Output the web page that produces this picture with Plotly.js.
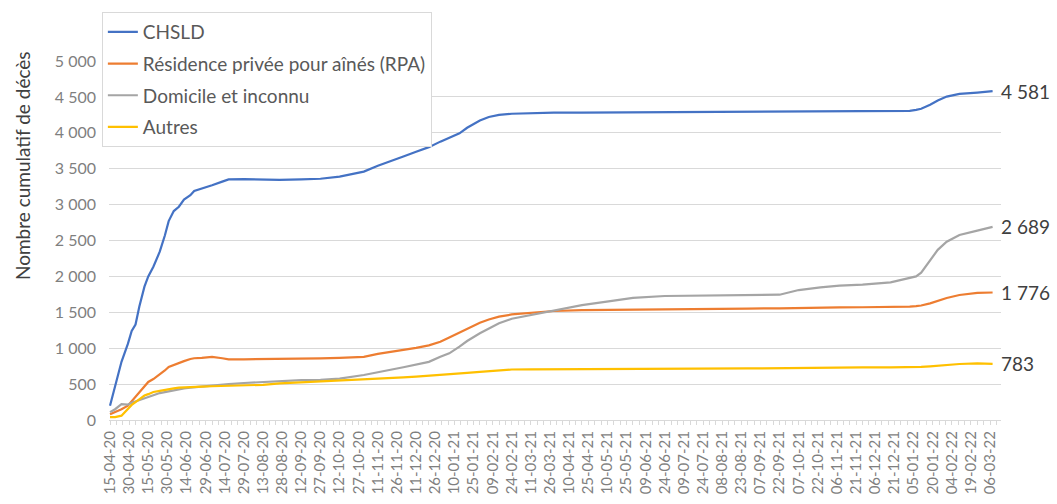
<!DOCTYPE html>
<html>
<head>
<meta charset="utf-8">
<script src="https://cdn.plot.ly/plotly-3.0.1.min.js"></script>
<style>
  html, body { margin: 0; padding: 0; background: #ffffff; }
  #chart { width: 1057px; height: 504px; }
</style>
</head>
<body>
<div id="chart"></div>
<script>
// ---- Data ----
const dates = [
  "2020-04-15","2020-04-19","2020-04-24","2020-04-29","2020-05-02","2020-05-05","2020-05-08",
  "2020-05-12","2020-05-15","2020-05-19","2020-05-24","2020-05-28","2020-05-31","2020-06-04",
  "2020-06-08","2020-06-12","2020-06-17","2020-06-20","2020-06-26","2020-07-04","2020-07-12",
  "2020-07-17","2020-07-29","2020-08-13","2020-08-26","2020-09-12","2020-09-27","2020-10-12",
  "2020-10-31","2020-11-11","2020-11-21","2020-12-01","2020-12-11","2020-12-21","2020-12-30",
  "2021-01-06","2021-01-14","2021-01-20","2021-01-30","2021-02-06","2021-02-14","2021-02-24",
  "2021-03-11","2021-03-29","2021-04-20","2021-05-15","2021-05-30","2021-06-24","2021-07-19",
  "2021-08-28","2021-09-22","2021-10-07","2021-10-24","2021-11-08","2021-11-26","2021-12-18",
  "2022-01-02","2022-01-07","2022-01-11","2022-01-18","2022-01-24","2022-01-31","2022-02-10",
  "2022-02-24","2022-03-08"
];

const chsld = [
  200,460,810,1060,1240,1330,1580,
  1857,2000,2135,2344,2570,2770,2910,
  2970,3070,3130,3190,3220,3270,3320,
  3350,3355,3345,3343,3350,3360,3390,
  3460,3540,3600,3670,3737,3800,3877,
  3930,3993,4070,4170,4220,4249,4265,
  4275,4280,4281,4283,4285,4286,4292,
  4293,4294,4295,4296,4297,4298,4298,
  4305,4320,4335,4390,4450,4504,4541,
  4560,4581
];

const rpa = [
  80,110,150,200,260,320,380,
  460,530,570,630,690,740,770,
  800,820,850,860,865,880,860,
  845,845,848,845,852,858,865,
  880,920,945,975,1005,1040,1090,
  1150,1220,1270,1355,1400,1439,1470,
  1495,1518,1530,1535,1542,1548,1551,
  1552,1555,1562,1565,1568,1570,1572,
  1579,1585,1595,1625,1660,1700,1741,
  1770,1776
];

const domicile = [
  110,150,220,215,240,260,280,
  300,320,345,375,390,400,415,
  430,440,450,455,470,488,495,
  500,515,530,543,555,560,575,
  627,660,700,735,770,810,880,
  929,1021,1100,1208,1270,1347,1410,
  1463,1523,1600,1662,1700,1727,1731,
  1733,1745,1810,1848,1871,1885,1918,
  1973,2000,2052,2229,2370,2483,2577,
  2637,2689
];

const autres = [
  40,40,60,160,210,250,290,
  340,360,390,405,420,430,440,
  450,455,460,465,465,470,475,
  475,478,490,511,525,535,545,
  560,575,585,595,605,615,625,
  635,648,655,670,682,696,703,
  706,706,708,715,715,715,715,
  718,725,730,732,733,734,734,
  735,737,740,748,757,766,780,
  789,783
];

const seriesNames = ["CHSLD", "Résidence privée pour aînés (RPA)", "Domicile et inconnu", "Autres"];
const seriesColors = ["#4472C4", "#ED7D31", "#A5A5A5", "#FFC000"];

const tickLabels = [
  "15-04-20","30-04-20","15-05-20","30-05-20","14-06-20","29-06-20","14-07-20","29-07-20",
  "13-08-20","28-08-20","12-09-20","27-09-20","12-10-20","27-10-20","11-11-20","26-11-20",
  "11-12-20","26-12-20","10-01-21","25-01-21","09-02-21","24-02-21","11-03-21","26-03-21",
  "10-04-21","25-04-21","10-05-21","25-05-21","09-06-21","24-06-21","09-07-21","24-07-21",
  "08-08-21","23-08-21","07-09-21","22-09-21","07-10-21","22-10-21","06-11-21","21-11-21",
  "06-12-21","21-12-21","05-01-22","20-01-22","04-02-22","19-02-22","06-03-22"
];

const yTitle = "Nombre cumulatif de décès";

// ---- Build chart ----
const allSeries = [chsld, rpa, domicile, autres];
const tickVals = tickLabels.map(s => {
  const [d, m, y] = s.split("-");
  return "20" + y + "-" + m + "-" + d;
});

const traces = allSeries.map((vals, i) => ({
  type: "scatter",
  mode: "lines",
  x: dates,
  y: vals,
  name: seriesNames[i],
  legendgroup: "g" + i,
  line: { color: seriesColors[i], width: 2.2 },
  hoverinfo: "skip"
}));

function fmt(n) {
  return String(n).replace(/\B(?=(\d{3})+(?!\d))/g, " ");
}

const FONT = "Lato, 'Noto Sans', sans-serif";

const endLabels = allSeries.map((vals, i) => ({
  x: dates[dates.length - 1],
  y: vals[vals.length - 1],
  xref: "x", yref: "y",
  text: fmt(vals[vals.length - 1]),
  showarrow: false,
  xanchor: "left",
  yanchor: "middle",
  xshift: 6,
  font: { family: FONT, size: 19, color: "#404040" }
}));

const layout = {
  width: 1057,
  height: 504,
  margin: { l: 109, r: 56, t: 61, b: 84, pad: 0 },
  paper_bgcolor: "#ffffff",
  plot_bgcolor: "#ffffff",
  separators: ", ",
  font: { family: FONT, color: "#7f7f7f" },
  showlegend: true,
  legend: {
    x: -0.008, y: 1.1365,
    xanchor: "left", yanchor: "top",
    bgcolor: "#ffffff",
    bordercolor: "#d9d9d9",
    borderwidth: 1,
    tracegroupgap: 4,
    font: { family: FONT, size: 19, color: "#595959" }
  },
  xaxis: {
    type: "date",
    range: ["2020-04-14 05:00", "2022-03-14 14:00"],
    tickmode: "array",
    tickvals: tickVals,
    ticktext: tickLabels,
    tickangle: -90,
    tickfont: { size: 15, color: "#7f7f7f" },
    showgrid: false,
    showline: true,
    linecolor: "#d9d9d9",
    linewidth: 1,
    ticks: "outside",
    ticklen: 4,
    tickcolor: "#d9d9d9",
    minor: { dtick: 5 * 86400000, tick0: "2020-04-15", ticks: "outside", ticklen: 4, tickcolor: "#d9d9d9", showgrid: false },
    zeroline: false,
    fixedrange: true
  },
  yaxis: {
    range: [0, 5000],
    dtick: 500,
    tickformat: ",d",
    tickfont: { size: 16, color: "#7f7f7f" },
    showgrid: true,
    gridcolor: "#d9d9d9",
    gridwidth: 1,
    zeroline: false,
    showline: false,
    ticks: "",
    ticklabelstandoff: 12,
    fixedrange: true
  },
  annotations: endLabels.concat([{
    text: yTitle,
    xref: "paper", yref: "paper",
    x: -0.0975, y: 0.7075,
    xanchor: "center", yanchor: "middle",
    textangle: -90,
    showarrow: false,
    font: { family: FONT, size: 19, color: "#404040" }
  }])
};

Plotly.newPlot("chart", traces, layout, { displayModeBar: false, staticPlot: true });
</script>
</body>
</html>
